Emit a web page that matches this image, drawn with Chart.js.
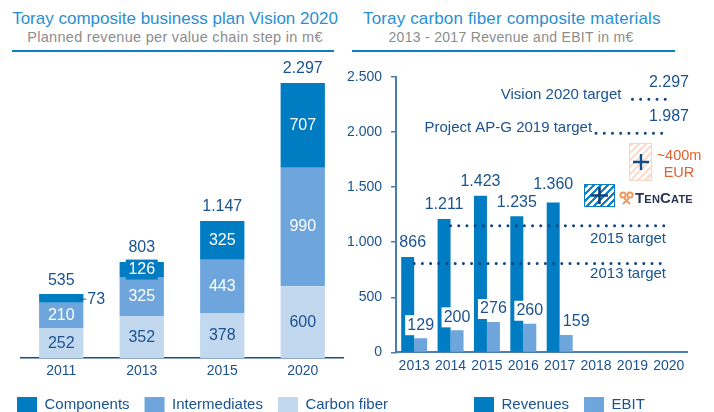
<!DOCTYPE html>
<html><head><meta charset="utf-8">
<script src="https://cdn.jsdelivr.net/npm/chart.js@4"></script>
<style>
html,body{margin:0;padding:0;background:#fff;width:714px;height:412px;overflow:hidden;font-family:"Liberation Sans",Arial,sans-serif}
canvas{position:absolute;top:0}
.t{position:absolute;white-space:nowrap;line-height:1}
.rule{position:absolute;top:50px;height:2px;background:#0B80C4}
</style></head><body>
<div class="t" style="left:12px;top:10px;width:326px;text-align:center;font-size:17px;color:#2A8FD2">Toray composite business plan Vision 2020</div>
<div class="t" style="left:12px;top:30px;width:326px;text-align:center;font-size:14.5px;color:#8C8C8C;letter-spacing:.3px">Planned revenue per value chain step in m€</div>
<div class="rule" style="left:12px;width:322px"></div>
<div class="t" style="left:363px;top:10px;font-size:17px;color:#2A8FD2;letter-spacing:.15px">Toray carbon fiber composite materials</div>
<div class="t" style="left:352px;top:30px;width:318px;text-align:center;font-size:14px;color:#8C8C8C;letter-spacing:.3px">2013 - 2017 Revenue and EBIT in m€</div>
<div class="rule" style="left:352px;width:323px"></div>
<canvas id="left" width="430" height="423" style="left:0;width:430px;height:423px"></canvas>
<canvas id="right" width="384" height="423" style="left:330px;width:384px;height:423px"></canvas>
<canvas id="targets" width="384" height="423" style="left:330px;width:384px;height:423px"></canvas>
<div style="position:absolute;left:629px;top:143px;width:23px;height:38px;box-sizing:border-box;border:1.5px solid #F9D5C3;background:repeating-linear-gradient(135deg,#FBDCCD 0 2.5px,#fff 2.5px 5px)"></div>
<svg style="position:absolute;left:633px;top:154px" width="16" height="16"><path d="M8 0V16M0 8H16" stroke="#0F4C8A" stroke-width="2.4"/></svg>
<div class="t" style="left:652px;top:148px;width:54px;text-align:center;font-size:14.5px;color:#E0622E">~400m</div>
<div class="t" style="left:652px;top:165px;width:54px;text-align:center;font-size:14.5px;color:#E0622E">EUR</div>
<div style="position:absolute;left:584px;top:184px;width:31px;height:23px;box-sizing:border-box;border:1.5px solid #0B80C4;background:repeating-linear-gradient(135deg,#0B80C4 0 2.5px,#fff 2.5px 5px)"></div>
<svg style="position:absolute;left:591px;top:187px" width="17" height="17"><path d="M8.5 0V17M0 8.5H17" stroke="#0F3F78" stroke-width="2.6"/></svg>
<svg style="position:absolute;left:619px;top:191px" width="15" height="14"><g fill="none" stroke="#EE9A5E" stroke-width="2"><circle cx="4" cy="4" r="2.6"/><circle cx="11" cy="4" r="2.6"/><path d="M5 7L11 13M10 7L4 13"/></g></svg>
<div class="t" style="left:635px;top:190px;font-size:15px;font-weight:bold;color:#2B3553;font-variant:small-caps;letter-spacing:.2px">TenCate</div>
<script>
// Left chart: planned revenue per value chain step
const planYears = ['2011','2013','2015','2020'];
const carbonFiber = [252,352,378,600];
const intermediates = [210,325,443,990];
const components = [73,126,325,707];
const planTotals = [535,803,1147,2297];
// Right chart: revenue and EBIT
const resultYears = ['2013','2014','2015','2016','2017','2018','2019','2020'];
const revenues = [866,1211,1423,1235,1360,null,null,null];
const ebit = [129,200,276,260,159,null,null,null];
const yTicks = [0,500,1000,1500,2000,2500];
// Targets: label, value, first and last year on the dotted line
const target2013 = {label:'2013 target', value:803, from:2013, to:2019.9};
const target2015 = {label:'2015 target', value:1147, from:2014, to:2020};
const targetAPG = {label:'Project AP-G 2019 target', value:1987, from:2018, to:2019.9};
const targetVision = {label:'Vision 2020 target', value:2297, from:2019, to:2020};
const targets = [target2013,target2015,targetAPG,targetVision];

const DARK='#1A5390', C1='#007CC2', C2='#6DA5DC', C3='#C1D8EF', FONT='"Liberation Sans", Arial, sans-serif';
const fmt = v => String(v).replace(/\B(?=(\d{3})+$)/g,'.');
Chart.defaults.font.family = FONT;
Chart.defaults.animation = false;
function txt(ctx,s,x,y,color,size,align){
  ctx.save();ctx.font=size+'px '+FONT;ctx.fillStyle=color;ctx.textAlign=align||'center';ctx.textBaseline='middle';ctx.fillText(s,x,y);ctx.restore();
}
const legendAt = x => ({id:'legendAt',afterLayout(c){c.legend.left=x;}});
const legendOpts = (reverse)=>({position:'bottom',align:'start',reverse,
  labels:{boxWidth:20,boxHeight:16,padding:15,color:DARK,font:{size:15}}});

const leftLabels={id:'leftLabels',afterDatasetsDraw(c){
  const ctx=c.ctx;
  c.data.datasets.forEach((ds,di)=>{
    c.getDatasetMeta(di).data.forEach((el,i)=>{
      const v=ds.data[i], cy=(el.y+el.base)/2, x=el.x;
      if(v===73){
        ctx.save();ctx.strokeStyle=DARK;ctx.lineWidth=1;ctx.beginPath();ctx.moveTo(x+17,el.y+5);ctx.lineTo(x+25,el.y+5);ctx.stroke();ctx.restore();
        txt(ctx,'73',x+35,cy+1,DARK,16);return;
      }
      if(v===126){ctx.save();ctx.fillStyle=C1;ctx.fillRect(x-16,cy-10,32,20);ctx.restore();}
      txt(ctx,fmt(v),x,cy,di===0?DARK:'#fff',16);
    });
  });
  const top=c.getDatasetMeta(2).data;
  planTotals.forEach((t,i)=>txt(ctx,fmt(t),top[i].x,top[i].y-14,DARK,16));
}};

new Chart(document.getElementById('left'),{type:'bar',
  data:{labels:planYears,datasets:[
    {label:'Carbon fiber',data:carbonFiber,backgroundColor:C3},
    {label:'Intermediates',data:intermediates,backgroundColor:C2},
    {label:'Components',data:components,backgroundColor:C1}]},
  plugins:[leftLabels,legendAt(2)],
  options:{responsive:false,
    layout:{padding:{left:0,right:0,top:58.75,bottom:0}},
    datasets:{bar:{barPercentage:.55,categoryPercentage:1}},
    plugins:{legend:legendOpts(true),tooltip:{enabled:false}},
    scales:{
      x:{stacked:true,grid:{display:false,drawTicks:false},border:{color:'#164E8C',width:1.5},
         ticks:{color:DARK,font:{size:14},padding:5,maxRotation:0},afterFit(s){s.height=23.8;}},
      y:{stacked:true,min:0,max:2500,grid:{display:false},border:{display:false},ticks:{display:false},afterFit(s){s.width=21;}},
      y2:{position:'right',grid:{display:false},border:{display:false},ticks:{display:false},afterFit(s){s.width=87;}}
    }}});

const rightLabels={id:'rightLabels',afterDatasetsDraw(c){
  const ctx=c.ctx;
  c.getDatasetMeta(0).data.forEach((el,i)=>{
    if(revenues[i]!=null) txt(ctx,fmt(revenues[i]),el.x+(i===0?5:0),el.y-(i===4?18:14),DARK,16);
  });
  c.getDatasetMeta(1).data.forEach((el,i)=>{
    if(ebit[i]==null) return;
    const last=i===4, x=el.x+(last?10:0), cy=el.y-13;
    if(!last){ctx.save();ctx.fillStyle='#fff';ctx.fillRect(x-15.5,cy-10,31,20);ctx.restore();}
    txt(ctx,fmt(ebit[i]),x,cy,DARK,16);
  });
}};

new Chart(document.getElementById('right'),{type:'bar',
  data:{labels:resultYears,datasets:[
    {label:'Revenues',data:revenues,backgroundColor:C1},
    {label:'EBIT',data:ebit,backgroundColor:C2}]},
  plugins:[rightLabels,legendAt(129)],
  options:{responsive:false,
    layout:{padding:{left:0,right:27,top:77,bottom:0}},
    datasets:{bar:{barPercentage:1,categoryPercentage:.714}},
    plugins:{legend:legendOpts(false),tooltip:{enabled:false}},
    scales:{
      x:{grid:{display:false,drawTicks:false},border:{color:'#4A7DB2',width:2},
         ticks:{color:DARK,font:{size:14},padding:5,maxRotation:0,autoSkip:false},afterFit(s){s.height=29.6;}},
      y:{min:0,max:2500,afterBuildTicks(s){s.ticks=yTicks.map(v=>({value:v}));},
         grid:{drawOnChartArea:false,drawTicks:true,tickLength:5,color:'#4A7DB2',lineWidth:1.5},
         border:{color:'#4A7DB2',width:2},
         ticks:{color:DARK,font:{size:14},padding:9,callback:v=>fmt(v)},afterFit(s){s.width=66;}}
    }}});

const targetLabels={id:'targetLabels',afterDatasetsDraw(c){
  const ctx=c.ctx,{x,y}=c.scales;
  [[target2013,10.6],[target2015,13.3]].forEach(([t,dy])=>{
    txt(ctx,t.label,x.right-21,y.getPixelForValue(t.value)+dy,DARK,15,'right');
  });
  [[targetAPG,-4,-6],[targetVision,-11,-4]].forEach(([t,dx,dy])=>{
    const p=y.getPixelForValue(t.value);
    txt(ctx,t.label,x.getPixelForValue(t.from)+dx,p+dy,DARK,15,'right');
    txt(ctx,fmt(t.value),x.right+2,p-16.5,DARK,16,'right');
  });
}};

new Chart(document.getElementById('targets'),{type:'scatter',
  data:{datasets:targets.map(t=>({label:t.label,showLine:true,
      data:[{x:t.from,y:t.value},{x:t.to,y:t.value}],
      borderColor:'#0E4580',borderWidth:3,borderCapStyle:'round',borderDash:[0,8.2],pointRadius:0,fill:false}))},
  plugins:[targetLabels],
  options:{responsive:false,
    layout:{padding:{left:66,right:27,top:77,bottom:71.3}},
    plugins:{legend:{display:false},tooltip:{enabled:false}},
    scales:{
      x:{type:'linear',display:false,min:2012.5,max:2020.5},
      y:{display:false,min:0,max:2500}
    }}});
</script>
</body></html>
